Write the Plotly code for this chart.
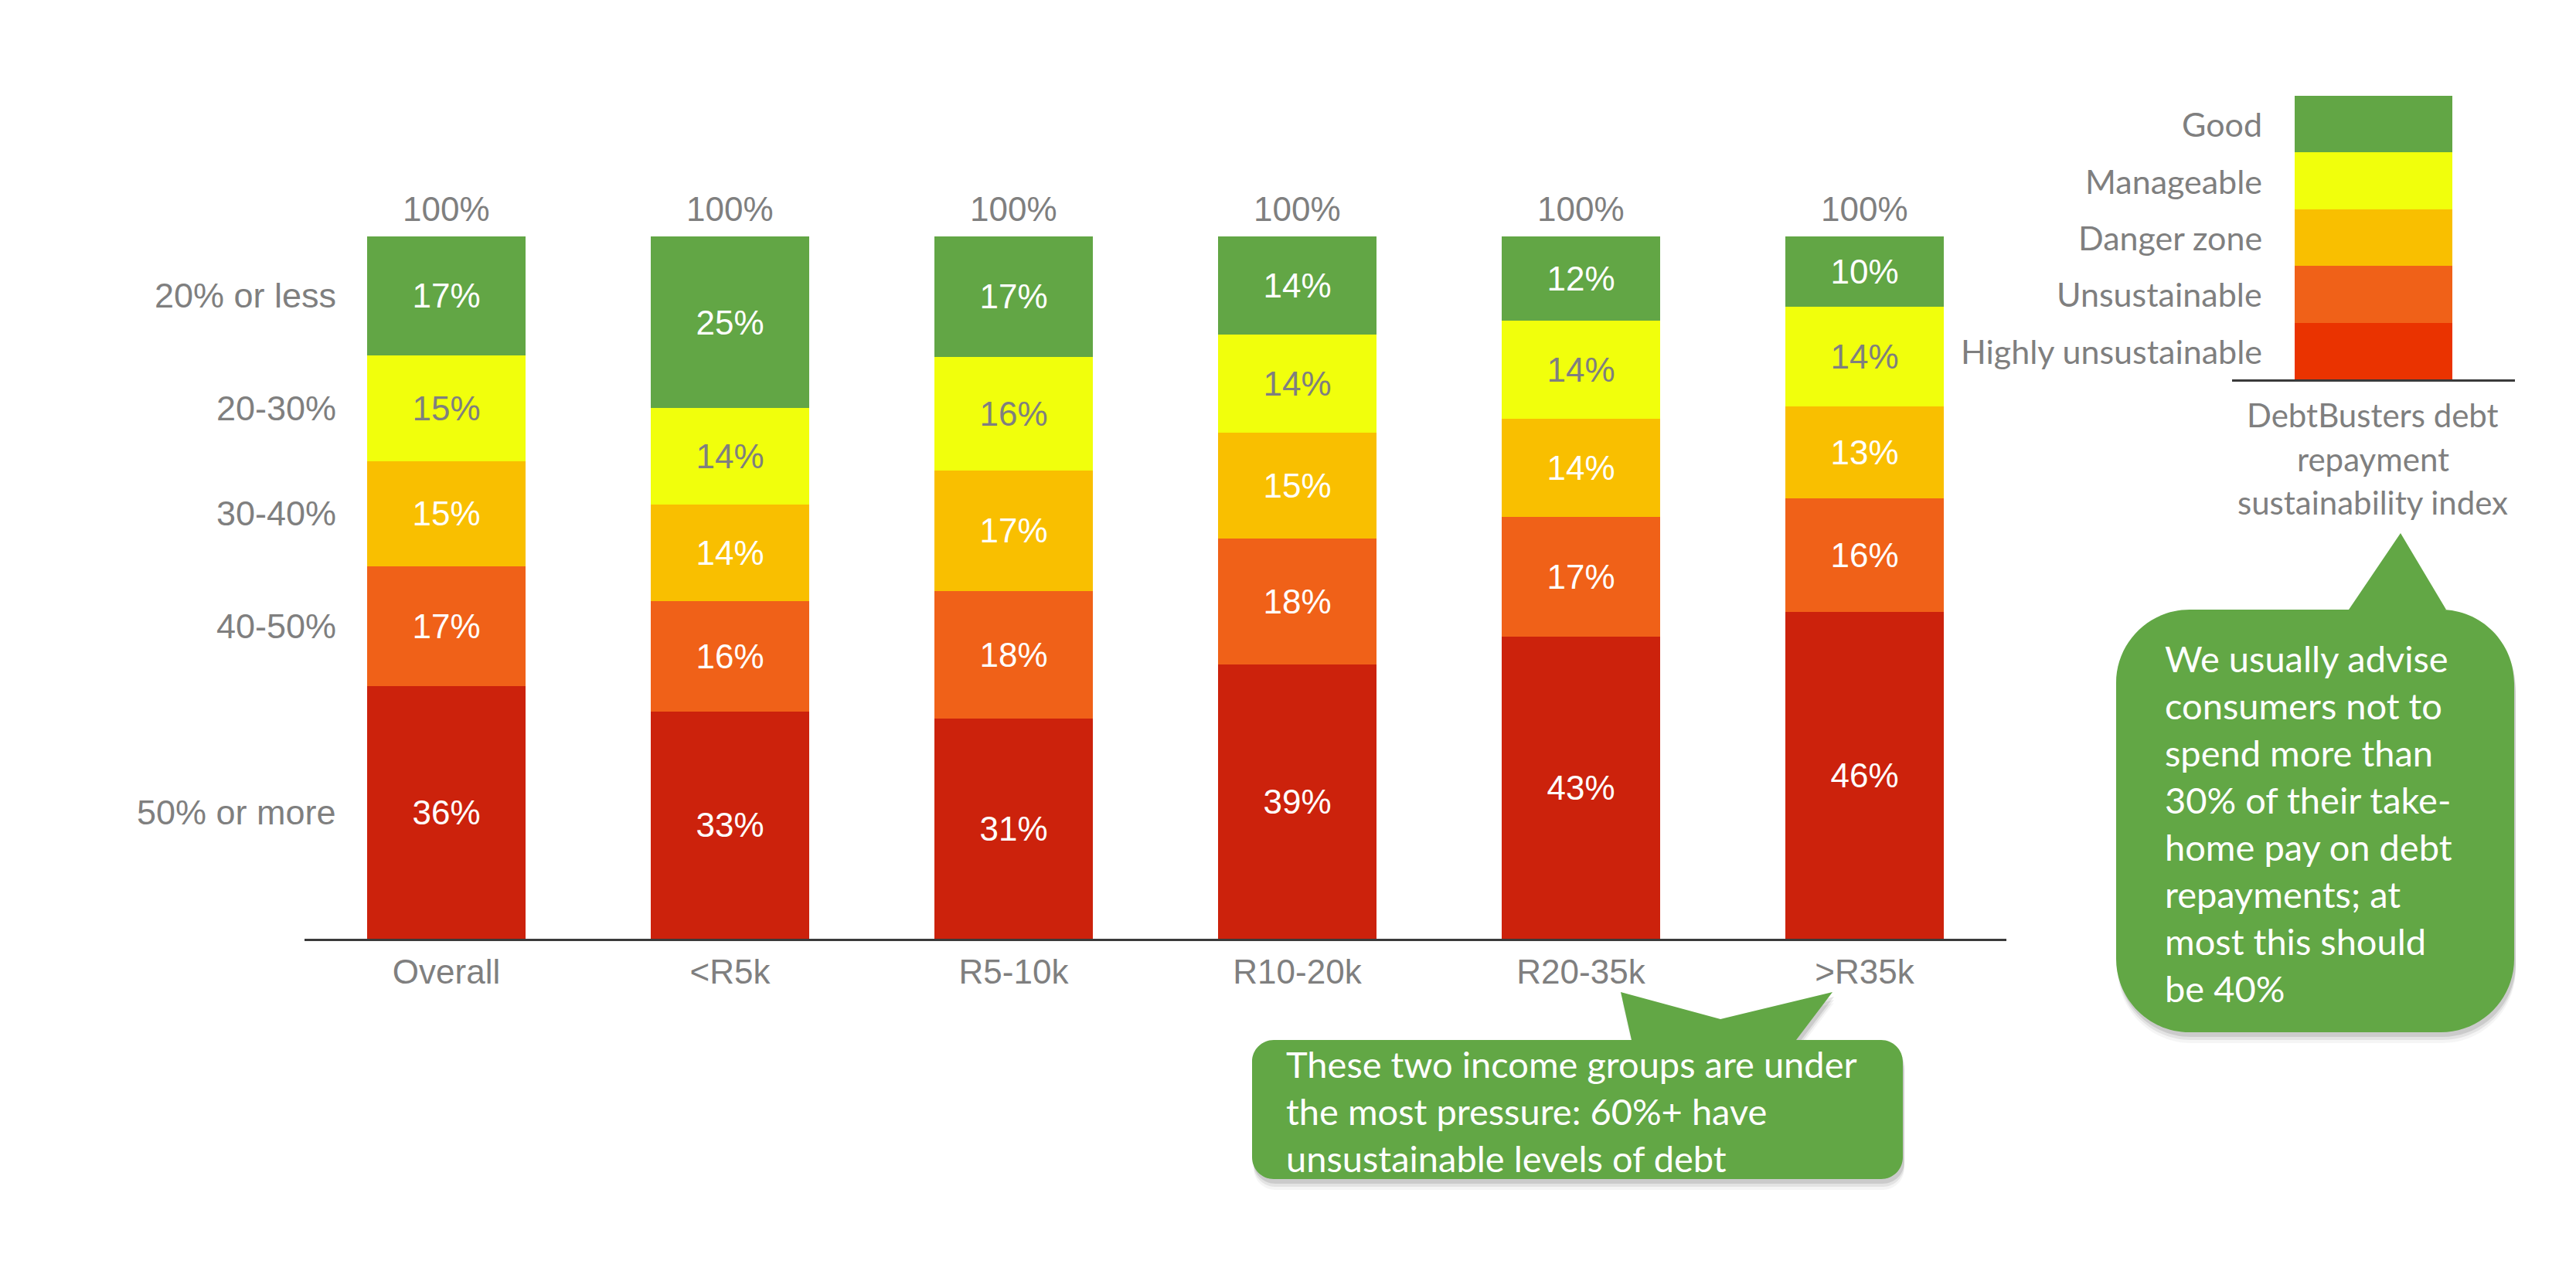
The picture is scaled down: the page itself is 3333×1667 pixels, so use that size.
import plotly.graph_objects as go
import numpy as np

# ---------------- data ----------------
categories = ["Overall", "<R5k", "R5-10k", "R10-20k", "R20-35k", ">R35k"]
good = [17, 25, 17, 14, 12, 10]          # 20% or less
manageable = [15, 14, 16, 14, 14, 14]    # 20-30%
danger = [15, 14, 17, 15, 14, 13]        # 30-40%
unsustainable = [17, 16, 18, 18, 17, 16] # 40-50%
highly = [36, 33, 31, 39, 43, 46]        # 50% or more
total_labels = ["100%"] * 6

row_labels = ["50% or more", "40-50%", "30-40%", "20-30%", "20% or less"]
index_labels = ["Highly unsustainable", "Unsustainable", "Danger zone", "Manageable", "Good"]
index_values = [1, 1, 1, 1, 1]
index_title = ["DebtBusters debt", "repayment", "sustainability index"]

callout_right = ["We usually advise", "consumers not to", "spend more than",
                 "30% of their take-", "home pay on debt", "repayments; at",
                 "most this should", "be 40%"]
callout_bottom = ["These two income groups are under",
                  "the most pressure: 60%+ have",
                  "unsustainable levels of debt"]

# ---------------- styles ----------------
W, H = 3333, 1667
OFF = 8  # page body margin compensation
C_GOOD = "#62A645"
C_MAN = "#F1FF0C"
C_DANGER = "#F9BF00"
C_UNS = "#F06118"
C_HIGH = "#CC220C"
C_HIGH_LEG = "#EA3300"
GREY = "#7F7F7F"
ARIAL = "Liberation Sans, Arial, sans-serif"
HUMAN = "Lato, Open Sans, sans-serif"


def X(px):
    return (px - OFF) / W


def Y(py):
    return 1 - (py - OFF) / H


series = [
    (highly, C_HIGH, "white"),
    (unsustainable, C_UNS, "white"),
    (danger, C_DANGER, "white"),
    (manageable, C_MAN, GREY),
    (good, C_GOOD, "white"),
]

fig = go.Figure()
for (vals, col, tcol), name in zip(series, row_labels):
    fig.add_trace(go.Bar(
        x=categories, y=vals, name=name,
        marker=dict(color=col, line=dict(width=0)),
        text=[f"{v}%" for v in vals], textposition="inside",
        insidetextanchor="middle", textangle=0,
        textfont=dict(family=ARIAL, size=44, color=tcol),
        xaxis="x", yaxis="y", showlegend=False, hoverinfo="skip",
    ))

leg_colors = [C_HIGH_LEG, C_UNS, C_DANGER, C_MAN, C_GOOD]
for v, col, name in zip(index_values, leg_colors, index_labels):
    fig.add_trace(go.Bar(
        x=["index"], y=[v], name=name, marker=dict(color=col, line=dict(width=0)),
        xaxis="x2", yaxis="y2", showlegend=False, hoverinfo="skip",
    ))

annotations = []
# 100% totals
for c, t in zip(categories, total_labels):
    annotations.append(dict(x=c, y=100, xref="x", yref="y", text=t, showarrow=False,
                            yanchor="middle", yshift=35,
                            font=dict(family=ARIAL, size=44, color=GREY)))

# row labels aligned with the Overall bar segments
overall = np.array([highly[0], unsustainable[0], danger[0], manageable[0], good[0]], float)
overall = overall / overall.sum() * 100
cum = np.cumsum(overall)
mids = cum - overall / 2
for lab, m in zip(row_labels, mids):
    annotations.append(dict(x=X(437), y=m, xref="paper", yref="y", text=lab,
                            showarrow=False, xanchor="right", yanchor="middle",
                            font=dict(family=ARIAL, size=45, color=GREY)))

# index labels
icum = np.cumsum(index_values) / sum(index_values) * 100
imid = icum - (np.array(index_values) / sum(index_values) * 100) / 2
for lab, m in zip(index_labels, imid):
    annotations.append(dict(x=X(2929), y=m, xref="paper", yref="y2", text=lab,
                            showarrow=False, xanchor="right", yanchor="middle",
                            font=dict(family=HUMAN, size=43, color=GREY)))


def lines(texts, x, y0, dy, size, color, anchor="left"):
    for i, t in enumerate(texts):
        annotations.append(dict(x=X(x), y=Y(y0 + i * dy), xref="paper", yref="paper",
                                text=t, showarrow=False, xanchor=anchor, yanchor="middle",
                                font=dict(family=HUMAN, size=size, color=color)))


lines(index_title, 3070, 537, 56.5, 42, GREY, anchor="center")
lines(callout_right, 2799, 852, 61, 47, "white")
lines(callout_bottom, 1662, 1377, 61, 47, "white")

# ---------------- callout shapes ----------------
K = 0.5523


def bubble(x0, y0, x1, y1, r, top_pts):
    def P(x, y):
        return f"{X(x):.5f},{Y(y):.5f}"
    d = f"M {P(x0 + r, y0)}"
    for (px, py) in top_pts:
        d += f" L {P(px, py)}"
    d += f" L {P(x1 - r, y0)}"
    d += f" C {P(x1 - r + K * r, y0)} {P(x1, y0 + r - K * r)} {P(x1, y0 + r)}"
    d += f" L {P(x1, y1 - r)}"
    d += f" C {P(x1, y1 - r + K * r)} {P(x1 - r + K * r, y1)} {P(x1 - r, y1)}"
    d += f" L {P(x0 + r, y1)}"
    d += f" C {P(x0 + r - K * r, y1)} {P(x0, y1 - r + K * r)} {P(x0, y1 - r)}"
    d += f" L {P(x0, y0 + r)}"
    d += f" C {P(x0, y0 + r - K * r)} {P(x0 + r - K * r, y0)} {P(x0 + r, y0)} Z"
    return d


shapes = []


def add_bubble(x0, y0, x1, y1, r, top_pts):
    for off, op in [(14, 0.04), (10, 0.07), (6, 0.10)]:
        shifted = [(px + 2, py + off) for px, py in top_pts]
        shapes.append(dict(type="path", xref="paper", yref="paper",
                           path=bubble(x0 + 2, y0 + off, x1 + 2, y1 + off, r, shifted),
                           fillcolor=f"rgba(0,0,0,{op})", line=dict(width=0), layer="below"))
    shapes.append(dict(type="path", xref="paper", yref="paper",
                       path=bubble(x0, y0, x1, y1, r, top_pts),
                       fillcolor="#62A745", line=dict(width=0), layer="below"))


add_bubble(2738, 789, 3253, 1336, 95, [(3039, 789), (3106, 690), (3165, 789)])
add_bubble(1620, 1346, 2462, 1526, 28,
           [(2111, 1346), (2097, 1284), (2226, 1319), (2371, 1284), (2324, 1346)])

fig.update_layout(
    width=W, height=H, autosize=False,
    margin=dict(l=0, r=0, t=0, b=0),
    paper_bgcolor="white", plot_bgcolor="rgba(0,0,0,0)",
    barmode="stack", barnorm="percent", bargap=0.442,
    xaxis=dict(domain=[X(394), X(2596)], range=[-0.5, 5.5], type="category",
               showline=True, linecolor="#3A3A3A", linewidth=3, ticks="",
               showgrid=False, zeroline=False, anchor="y",
               tickfont=dict(family=ARIAL, size=44, color=GREY), ticklabelstandoff=2),
    yaxis=dict(domain=[Y(1215), Y(305.6)], range=[0, 100], visible=False, anchor="x"),
    xaxis2=dict(domain=[X(2888), X(3254)], range=[-0.5, 0.5], type="category",
                showline=True, linecolor="#3A3A3A", linewidth=3, ticks="",
                showticklabels=False, showgrid=False, zeroline=False, anchor="y2"),
    yaxis2=dict(domain=[Y(491), Y(124)], range=[0, 100], visible=False, anchor="x2"),
    annotations=annotations,
    shapes=shapes,
)

fig.write_html("out.html")
